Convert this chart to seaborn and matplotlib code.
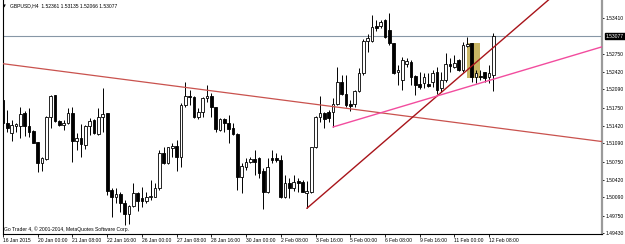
import matplotlib
matplotlib.use("Agg")
import matplotlib.pyplot as plt
import matplotlib.transforms as mtransforms
import seaborn as sns
import pandas as pd
import numpy as np

# ---------------- data (GBPUSD, H4) ----------------
opens = [1.51895, 1.51474, 1.51278, 1.51413, 1.51419, 1.51648, 1.51419, 1.51326, 1.51122, 1.50721,
         1.50801, 1.51574, 1.51988, 1.51506, 1.51432, 1.51463, 1.51660, 1.51140, 1.51185, 1.51061,
         1.51419, 1.51524, 1.51265, 1.51574, 1.51648, 1.50226, 1.50091, 1.50152, 1.49980, 1.49776,
         1.49930, 1.50176, 1.50073, 1.50028, 1.50091, 1.50102, 1.50258, 1.50907, 1.50721, 1.51011,
         1.51042, 1.50844, 1.51802, 1.51975, 1.51956, 1.51585, 1.51667, 1.51927, 1.51975, 1.51760,
         1.51339, 1.51537, 1.51463, 1.51381, 1.51265, 1.50473, 1.50658, 1.50751, 1.50801, 1.50825,
         1.50579, 1.50195, 1.50825, 1.50814, 1.50783, 1.50091, 1.50351, 1.50258, 1.50399, 1.50380,
         1.50165, 1.50195, 1.51018, 1.51574, 1.51648, 1.51673, 1.51678, 1.51815, 1.52223, 1.52001,
         1.51815, 1.51815, 1.52062, 1.52390, 1.52989, 1.52989, 1.53267, 1.53273, 1.53378, 1.53193,
         1.52946, 1.52420, 1.52266, 1.52557, 1.52605, 1.52340, 1.52186, 1.52205, 1.52186, 1.52223,
         1.52420, 1.52112, 1.52266, 1.52557, 1.52512, 1.52637, 1.52451, 1.52902, 1.52946, 1.52327,
         1.52340, 1.52420, 1.52327, 1.52361]
highs = [1.51932, 1.51710, 1.51524, 1.51474, 1.51771, 1.51697, 1.51741, 1.51339, 1.51122, 1.50844,
         1.51598, 1.51988, 1.51997, 1.51524, 1.51524, 1.51741, 1.51771, 1.51289, 1.51450, 1.51432,
         1.51556, 1.51534, 1.51752, 1.52112, 1.51648, 1.50258, 1.50258, 1.50195, 1.50041, 1.49948,
         1.50351, 1.50195, 1.50288, 1.50195, 1.50412, 1.50351, 1.50968, 1.51029, 1.51029, 1.51092,
         1.51153, 1.51834, 1.52223, 1.52080, 1.51969, 1.51741, 1.51956, 1.52173, 1.52019, 1.51771,
         1.51556, 1.51556, 1.51617, 1.51463, 1.51278, 1.50721, 1.50814, 1.50833, 1.50968, 1.50844,
         1.50629, 1.50814, 1.50968, 1.50907, 1.50875, 1.50505, 1.50443, 1.50505, 1.50443, 1.50412,
         1.50399, 1.51029, 1.51598, 1.51975, 1.51678, 1.51710, 1.51932, 1.52512, 1.52359, 1.52359,
         1.51895, 1.52080, 1.52494, 1.53020, 1.53113, 1.53471, 1.53378, 1.53378, 1.53397, 1.53508,
         1.52946, 1.52544, 1.52692, 1.52668, 1.52637, 1.52359, 1.52420, 1.52390, 1.52390, 1.52451,
         1.52512, 1.52420, 1.52761, 1.52679, 1.52729, 1.52646, 1.52976, 1.53069, 1.52946, 1.52451,
         1.52451, 1.52420, 1.52544, 1.53135]
lows = [1.51450, 1.51307, 1.51140, 1.51307, 1.51185, 1.51228, 1.51204, 1.51092, 1.50566, 1.50584,
        1.50783, 1.51370, 1.51496, 1.51419, 1.51339, 1.51450, 1.50751, 1.50968, 1.50833, 1.50981,
        1.51246, 1.51265, 1.51246, 1.51307, 1.50134, 1.49731, 1.49980, 1.49824, 1.49578, 1.49596,
        1.49917, 1.49843, 1.49917, 1.49980, 1.50041, 1.50091, 1.50226, 1.50708, 1.50708, 1.50844,
        1.50584, 1.50658, 1.51771, 1.51802, 1.51556, 1.51537, 1.51585, 1.51864, 1.51585, 1.51307,
        1.51326, 1.51307, 1.51103, 1.51246, 1.50226, 1.50176, 1.50597, 1.50721, 1.50505, 1.50443,
        1.49874, 1.50176, 1.50721, 1.50751, 1.50078, 1.50073, 1.50073, 1.50213, 1.50195, 1.50184,
        1.49887, 1.50165, 1.51000, 1.51493, 1.51370, 1.51487, 1.51394, 1.51802, 1.51988, 1.51771,
        1.51691, 1.51771, 1.52049, 1.52359, 1.52791, 1.52976, 1.53174, 1.53224, 1.53050, 1.52915,
        1.52372, 1.52173, 1.52080, 1.52512, 1.52173, 1.51988, 1.52099, 1.52123, 1.52142, 1.52142,
        1.52001, 1.52038, 1.52234, 1.52420, 1.52483, 1.52433, 1.52420, 1.52883, 1.52234, 1.52205,
        1.52266, 1.52223, 1.52205, 1.52066]
closes = [1.51469, 1.51370, 1.51432, 1.51445, 1.51630, 1.51419, 1.51307, 1.51103, 1.50721, 1.50814,
          1.51585, 1.51975, 1.51506, 1.51432, 1.51474, 1.51660, 1.51140, 1.51185, 1.51079, 1.51413,
          1.51506, 1.51289, 1.51585, 1.51635, 1.50213, 1.50091, 1.50152, 1.49980, 1.49776, 1.49930,
          1.50165, 1.50028, 1.50023, 1.50102, 1.50115, 1.50258, 1.50907, 1.50721, 1.51018, 1.51042,
          1.50844, 1.51802, 1.51975, 1.51945, 1.51585, 1.51678, 1.51927, 1.51975, 1.51760, 1.51357,
          1.51537, 1.51463, 1.51357, 1.51265, 1.50473, 1.50671, 1.50751, 1.50801, 1.50746, 1.50536,
          1.50195, 1.50647, 1.50783, 1.50783, 1.50091, 1.50362, 1.50269, 1.50369, 1.50351, 1.50195,
          1.50208, 1.51018, 1.51574, 1.51648, 1.51537, 1.51561, 1.51815, 1.52223, 1.52001, 1.51802,
          1.51784, 1.52062, 1.52390, 1.52989, 1.53039, 1.53254, 1.53235, 1.53347, 1.53069, 1.52946,
          1.52390, 1.52451, 1.52637, 1.52618, 1.52327, 1.52173, 1.52142, 1.52327, 1.52160, 1.52390,
          1.52080, 1.52266, 1.52557, 1.52531, 1.52575, 1.52451, 1.52915, 1.52933, 1.52327, 1.52390,
          1.52316, 1.52297, 1.52390, 1.53077]

date_labels = ["16 Jan 2015", "20 Jan 00:00", "21 Jan 08:00", "22 Jan 16:00", "26 Jan 00:00",
               "27 Jan 08:00", "28 Jan 16:00", "30 Jan 00:00", "2 Feb 08:00", "3 Feb 16:00",
               "5 Feb 00:00", "6 Feb 08:00", "9 Feb 16:00", "11 Feb 00:00", "12 Feb 08:00"]
bars_per_label = 8

price_ticks = [1.53410, 1.52750, 1.52420, 1.52090, 1.51750, 1.51420, 1.51090,
               1.50750, 1.50420, 1.50090, 1.49750, 1.49430]
current_price = 1.53077

# trend objects: (bar index, price) anchor pairs
red_trend_bars = [0, 138]
red_trend_prices = [1.52568, 1.51125]
darkred_ray_bars = [70, 126]
darkred_ray_prices = [1.49887, 1.53773]
pink_ray_bars = [76, 138]
pink_ray_prices = [1.51394, 1.52881]
rect_bars = [107, 110]
rect_prices = [1.52303, 1.52952]

title = "GBPUSD,H4  1.52361 1.53135 1.52066 1.53077"
copyright_txt = "Go Trader 4, \u00a9 2001-2014, MetaQuotes Software Corp."

# ---------------- figure ----------------
sns.set_theme(style="white")
plt.rcParams['font.family'] = ['Liberation Sans', 'DejaVu Sans']
FS = 3.6

W, H = 625, 244
fig = plt.figure(figsize=(W / 100, H / 100), dpi=100)
fig.patch.set_facecolor('white')
ax = fig.add_axes([3 / W, (H - 234) / H, (602 - 3) / W, 234 / H])
ax.set_facecolor('white')

df = pd.DataFrame({'open': opens, 'high': highs, 'low': lows, 'close': closes})
df['idx'] = np.arange(len(df))
up = df['close'] >= df['open']

# rectangle (behind candles)
ax.fill_between(rect_bars, [rect_prices[0]] * 2, [rect_prices[1]] * 2,
                color='#c8b564', lw=0, zorder=1)

# wicks
ax.vlines(df['idx'], df['low'], df['high'], color='black', lw=0.7, zorder=3)
body_lo = np.minimum(df['open'], df['close'])
body_h = np.maximum((df['close'] - df['open']).abs(), 0.00004)
bw = 0.62
ax.bar(df['idx'][up], body_h[up], bottom=body_lo[up], width=bw, color='white',
       edgecolor='black', linewidth=0.6, zorder=4)
ax.bar(df['idx'][~up], body_h[~up], bottom=body_lo[~up], width=bw, color='black',
       edgecolor='black', linewidth=0.6, zorder=4)

xmax = 138
# red trend line
sns.lineplot(x=red_trend_bars, y=red_trend_prices, ax=ax, color='#c9524e', lw=0.9, zorder=5)
# dark red ray
s = (darkred_ray_prices[1] - darkred_ray_prices[0]) / (darkred_ray_bars[1] - darkred_ray_bars[0])
ax.plot([darkred_ray_bars[0], xmax + 5],
        [darkred_ray_prices[0], darkred_ray_prices[0] + s * (xmax + 5 - darkred_ray_bars[0])],
        color='#a8141a', lw=1.0, zorder=5)
# pink ray
sns.lineplot(x=pink_ray_bars, y=pink_ray_prices, ax=ax, color='#f24c9e', lw=1.0, zorder=5)
# current price line
ax.axhline(current_price, color='#8797a6', lw=0.8, zorder=2)

ax.set_xlim(0, xmax)
ax.set_ylim(1.49411, 1.53749)

# axes styling
ax.spines['top'].set_visible(False)
ax.spines['left'].set_color('black')
ax.spines['left'].set_linewidth(0.8)
ax.spines['bottom'].set_color('black')
ax.spines['bottom'].set_linewidth(0.8)
ax.spines['right'].set_color('#9a9a9a')
ax.spines['right'].set_linewidth(1.6)

ax.yaxis.tick_right()
ax.set_yticks(price_ticks)
ax.set_yticklabels([f"{v:.5f}" for v in price_ticks])
ax.tick_params(axis='y', right=True, left=False, length=1.6, width=0.6, pad=1.0,
               labelsize=FS, colors='black', direction='out')

tick_pos = [i * bars_per_label for i in range(len(date_labels))]
ax.set_xticks(tick_pos)
ax.set_xticklabels(date_labels)
ax.tick_params(axis='x', bottom=True, length=2, width=0.6, pad=0.8, labelsize=FS,
               colors='black', direction='out')
for lbl in ax.get_xticklabels():
    lbl.set_ha('left')
ax.set_xlabel('')
ax.set_ylabel('')
if ax.get_legend():
    ax.get_legend().remove()

# current price tag
trans = mtransforms.blended_transform_factory(ax.transAxes, ax.transData)
ax.text(1.0 + 3.8 / 599, current_price, f"{current_price:.5f}", transform=trans,
        ha='left', va='center', fontsize=FS, color='white', zorder=10, clip_on=False,
        bbox=dict(boxstyle='square,pad=0.15', fc='black', ec='black'))

# copyright
ax.text(1.5 / 599, 4.5 / 234, copyright_txt, transform=ax.transAxes, ha='left', va='center',
        fontsize=FS, color='black')

# title
fig.text(3 / W, 1 - 6 / H, "\u25bc", fontsize=2.6, ha='left', va='center', color='black',
         family=['DejaVu Sans'])
fig.text(10 / W, 1 - 6 / H, title, fontsize=FS, ha='left', va='center', color='black')

fig.savefig('out.png', dpi=100, facecolor='white')
